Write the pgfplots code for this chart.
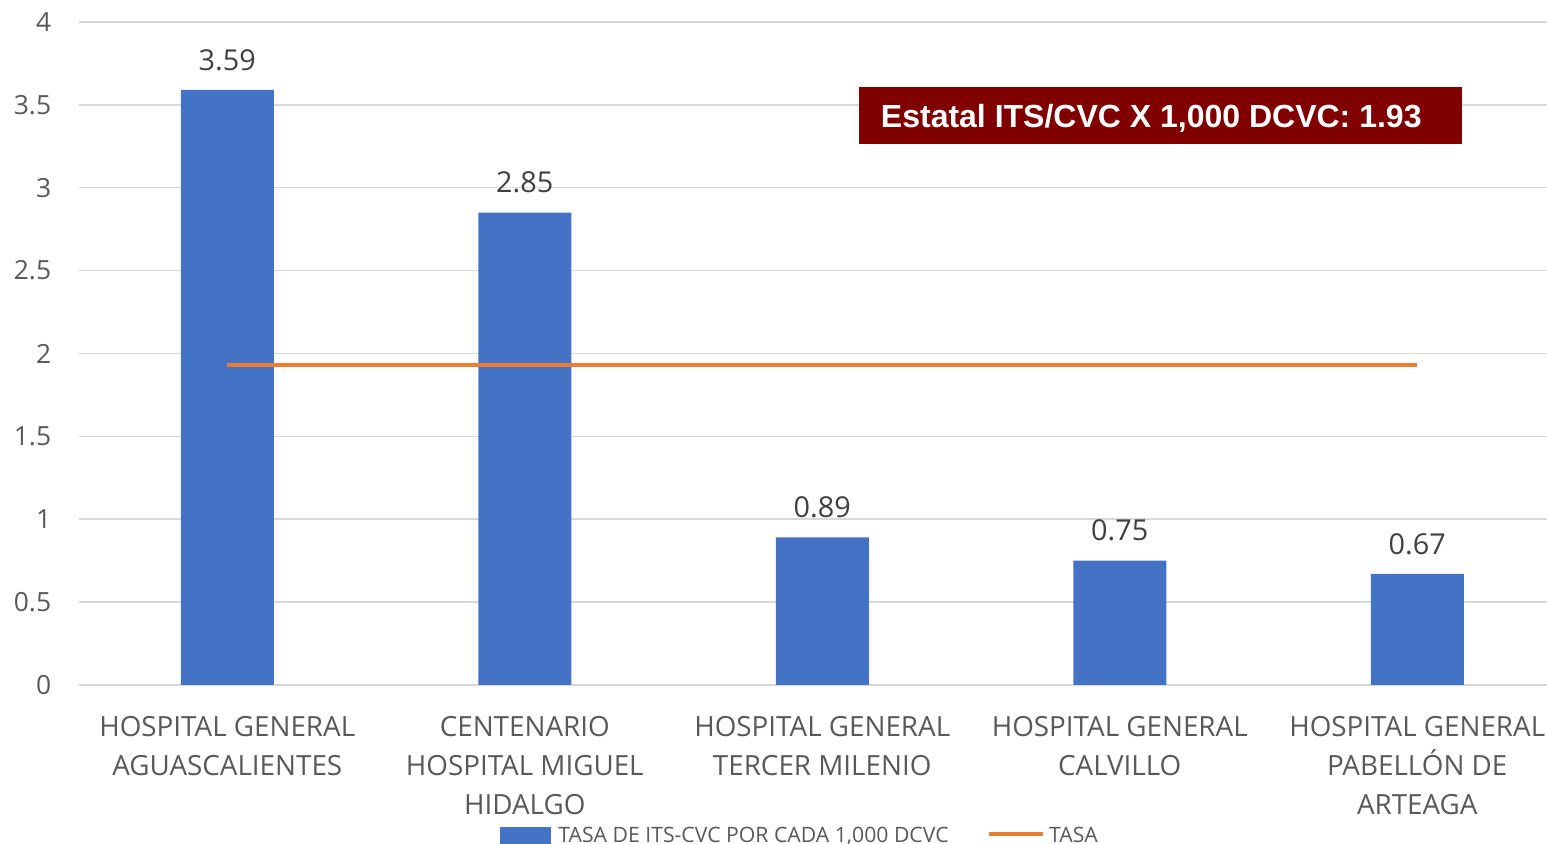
\documentclass[border=0pt]{standalone}
\usepackage{pgfplots}
\pgfplotsset{compat=1.18}
\usepackage{fontspec}
\setmainfont{Open Sans}
\setsansfont{Liberation Sans}
\definecolor{barblue}{HTML}{4472C4}
\definecolor{lineorange}{HTML}{ED7D31}
\definecolor{gridgray}{HTML}{D9D9D9}
\definecolor{ticktext}{HTML}{595959}
\definecolor{labeltext}{HTML}{404040}
\definecolor{boxred}{HTML}{800000}
\begin{document}
\begin{tikzpicture}
\useasboundingbox (0,0) rectangle (773.5pt,422pt);
\clip (0,0) rectangle (773.5pt,422pt);
\begin{axis}[
  at={(39.25pt,79.5pt)}, anchor=south west,
  scale only axis, width=743.75pt, height=331.5pt,
  xmin=-0.5, xmax=4.5, ymin=0, ymax=4,
  xtick={0,1,2,3,4},
  xticklabels={{HOSPITAL GENERAL\\AGUASCALIENTES},{CENTENARIO\\HOSPITAL MIGUEL\\HIDALGO},{HOSPITAL GENERAL\\TERCER MILENIO},{HOSPITAL GENERAL\\CALVILLO},{HOSPITAL GENERAL\\PABELLÓN DE\\ARTEAGA}},
  ytick={0,0.5,1,1.5,2,2.5,3,3.5,4},
  yticklabels={0,0.5,1,1.5,2,2.5,3,3.5,4},
  ymajorgrids, grid style={gridgray, line width=0.75pt},
  axis line style={draw=none},
  major tick length=0pt,
  yticklabel style={font=\fontsize{13.2}{15}\selectfont, text=ticktext, anchor=east, inner sep=0pt, xshift=-13.5pt},
  xticklabel style={font=\fontsize{13.9}{19.5}\selectfont, text=ticktext, align=center, anchor=north, inner sep=0pt, yshift=-15.5pt},
  legend style={at={(0.4858,-0.228)}, anchor=center, draw=none, fill=none, legend columns=2,
    font=\fontsize{10.6}{13}\selectfont, text=ticktext, inner sep=0pt,
    /tikz/every even column/.append style={column sep=17pt}},
  legend cell align=left,
  clip=false,
]
\addplot[ybar, bar width=46.5pt, fill=barblue, draw=none,
  point meta=explicit symbolic,
  nodes near coords,
  nodes near coords style={font=\fontsize{14.4}{16}\selectfont, text=labeltext, anchor=center, yshift=15pt},
  legend image code/.code={\fill[barblue] (0pt,-4.5pt) rectangle (25.5pt,4.5pt);}]
  coordinates {(0,3.59) [3.59] (1,2.85) [2.85] (2,0.89) [0.89] (3,0.75) [0.75] (4,0.67) [0.67]};
\addlegendentry{\hspace{1.5pt}TASA DE ITS-CVC POR CADA 1,000 DCVC}
\addplot[lineorange, line width=2.25pt, mark=none,
  legend image code/.code={\draw[lineorange, line width=2.25pt] (0pt,1pt) -- (27pt,1pt);}]
  coordinates {(0,1.93) (1,1.93) (2,1.93) (3,1.93) (4,1.93)};
\addlegendentry{TASA}
\fill[boxred] (axis cs:2.125,3.264) rectangle (axis cs:4.152,3.608);
\node[anchor=west, text=white, font=\sffamily\bfseries\fontsize{16}{19}\selectfont, inner sep=0pt] at (axis cs:2.196,3.418) {Estatal ITS/CVC X 1,000 DCVC: 1.93};
\end{axis}
\end{tikzpicture}
\end{document}
